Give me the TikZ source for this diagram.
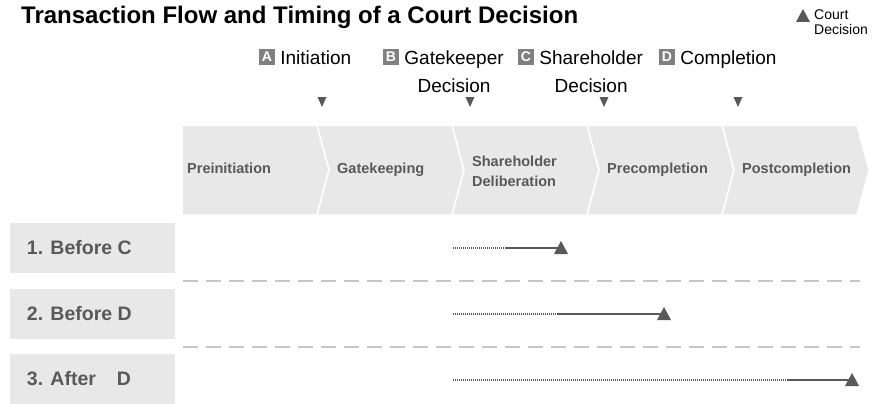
\documentclass[tikz,border=0pt]{standalone}
\usepackage{fontspec}
\setmainfont{Liberation Sans}
\usetikzlibrary{calc,positioning}

\definecolor{bandgray}{HTML}{E8E8E8}
\definecolor{markgray}{HTML}{595959}
\definecolor{boxgray}{HTML}{808080}
\definecolor{dashgray}{HTML}{C6C6C6}

\begin{document}
\begin{tikzpicture}[x=1pt,y=-1pt,
        markbox/.style={fill=boxgray,text=white,font=\bfseries\fontsize{14}{14}\selectfont,minimum size=16pt,inner sep=0pt},
        milestone/.style={font=\fontsize{19}{23}\selectfont,text height=17.5pt,text depth=1.5pt,inner sep=0pt},
        phase/.style={font=\bfseries\fontsize{14.5}{20}\selectfont,text=markgray,inner sep=0pt,anchor=west,align=left},
        oneline/.style={text height=10.5pt,text depth=3pt},
        rowbox/.style={fill=bandgray,minimum width=165pt,minimum height=50pt,inner sep=0pt},
        rowlabel/.style={font=\bfseries\fontsize{19.5}{20}\selectfont,text=markgray,inner sep=0pt},
        sep/.style={dashgray,line width=2.5pt,dash pattern=on 15pt off 8pt},
        waiting/.style={markgray,line width=1.2pt,dash pattern=on 1pt off 1pt},
        ruling/.style={markgray,line width=1.8pt}]
        \useasboundingbox (0,0) rectangle (875,404);

        % Title and legend
        \node[anchor=base west,inner sep=0pt,font=\bfseries\fontsize{24}{24}\selectfont] (title) at (21,24) {Transaction Flow and Timing of a Court Decision};
        \fill[markgray] (796,22) -- (810,22) -- (803,9) -- cycle;
        \node[anchor=north west,inner sep=0pt,align=left,font=\fontsize{14}{15}\selectfont] (legend) at (814,10) {Court\\Decision};

        % Milestones
        \node[markbox] (boxA) at (267,57) {A};
        \node[milestone,right=5pt of boxA] (msA) {Initiation};
        \node[markbox] (boxB) at (391,57) {B};
        \node[milestone,right=5pt of boxB] (msB) {Gatekeeper};
        \node[milestone,below=8pt of msB] (msB2) {Decision};
        \node[markbox] (boxC) at (526,57) {C};
        \node[milestone,right=5pt of boxC] (msC) {Shareholder};
        \node[milestone,below=8pt of msC] (msC2) {Decision};
        \node[markbox] (boxD) at (667,57) {D};
        \node[milestone,right=5pt of boxD] (msD) {Completion};

        % Small markers above the phase boundaries
        \foreach \mx in {322,470,604,738}
            \fill[markgray] (\mx-4.5,97) -- (\mx+4.5,97) -- (\mx,107) -- cycle;

        % Draw the phases
        \foreach \i in {0,...,4}{
            \pgfmathsetmacro{\L}{182+135*\i}
            \pgfmathsetmacro{\n}{\i==0 ? 0 : 12}
            \filldraw[fill=bandgray,draw=white,line width=1.5pt] (\L,125) -- (\L+135,125) -- (\L+147,170) -- (\L+135,215) -- (\L,215) -- (\L+\n,170) -- cycle;
        }
        \node[phase,oneline] (ph1) at (187,170) {Preinitiation};
        \node[phase,oneline] (ph2) at (337,170) {Gatekeeping};
        \node[phase] (ph3) at (472,171) {Shareholder\\Deliberation};
        \node[phase,oneline] (ph4) at (607,170) {Precompletion};
        \node[phase,oneline] (ph5) at (742,170) {Postcompletion};

        % Rows
        \node[rowbox] (row1) at (92.5,248) {};
        \node[rowbox] (row2) at (92.5,314) {};
        \node[rowbox] (row3) at (92.5,379) {};
        \node[rowlabel,right=17pt of row1.west] (lab1) {1. Before C};
        \node[rowlabel,right=17pt of row2.west] (lab2) {2. Before D};
        \node[rowlabel,right=17pt of row3.west] (lab3) {3. After\hspace{21pt}D};

        \draw[sep] (183,281) -- (860,281);
        \draw[sep] (183,347) -- (860,347);

        % Coordinates of the timelines
        \coordinate (s1) at (453,248);
        \coordinate (m1) at (505,248);
        \coordinate (e1) at (561,248);
        \coordinate (s2) at (453,314);
        \coordinate (m2) at (558,314);
        \coordinate (e2) at (664,314);
        \coordinate (s3) at (453,380);
        \coordinate (m3) at (788,380);
        \coordinate (e3) at (852,380);

        % Draw the timelines
        \foreach \r in {1,2,3}{
            \draw[waiting] (s\r) -- (m\r);
            \draw[ruling] (m\r) -- (e\r);
            \fill[markgray] (e\r) ++(-7,6) -- ++(14,0) -- ++(-7,-13) -- cycle;
        }
    \end{tikzpicture}
\end{document}
